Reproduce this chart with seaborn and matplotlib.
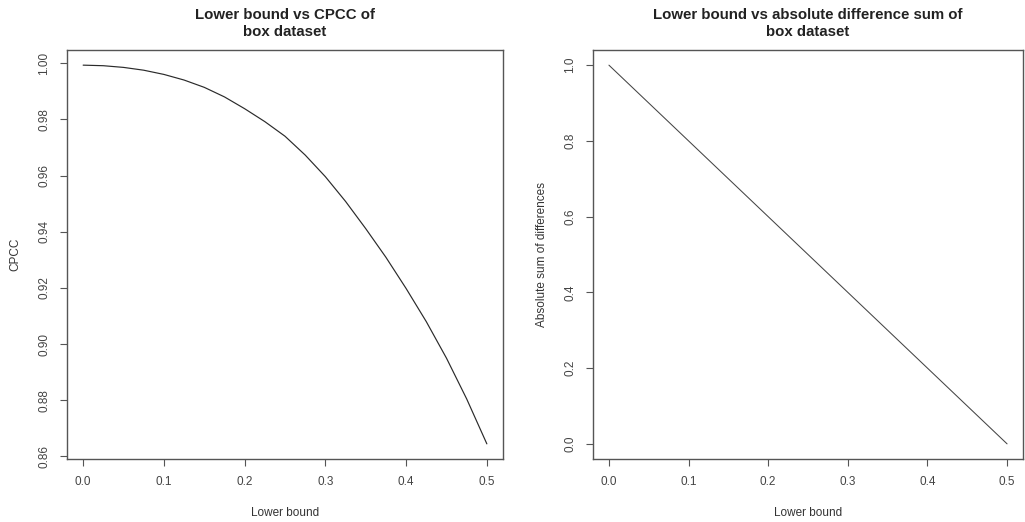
import matplotlib
matplotlib.use("Agg")
import matplotlib.pyplot as plt
import seaborn as sns
import pandas as pd

# ---- data ----
lower_bound = [0.0, 0.025, 0.05, 0.075, 0.1, 0.125, 0.15, 0.175, 0.2, 0.225, 0.25,
               0.275, 0.3, 0.325, 0.35, 0.375, 0.4, 0.425, 0.45, 0.475, 0.5]
cpcc = [0.9993, 0.9991, 0.9985, 0.9975, 0.9960, 0.9940, 0.9914, 0.9880, 0.9838, 0.9792, 0.9740,
        0.9673, 0.9596, 0.9508, 0.9411, 0.9309, 0.9198, 0.9080, 0.8950, 0.8805, 0.8645]
lower_bound2 = [0.0, 0.05, 0.1, 0.15, 0.2, 0.25, 0.3, 0.35, 0.4, 0.45, 0.5]
abs_diff = [1.0, 0.9, 0.8, 0.7, 0.6, 0.5, 0.4, 0.3, 0.2, 0.1, 0.0]

x_ticks = [0.0, 0.1, 0.2, 0.3, 0.4, 0.5]
x_tick_labels = ["0.0", "0.1", "0.2", "0.3", "0.4", "0.5"]
y1_ticks = [0.86, 0.88, 0.90, 0.92, 0.94, 0.96, 0.98, 1.00]
y1_tick_labels = ["0.86", "0.88", "0.90", "0.92", "0.94", "0.96", "0.98", "1.00"]
y2_ticks = [0.0, 0.2, 0.4, 0.6, 0.8, 1.0]
y2_tick_labels = ["0.0", "0.2", "0.4", "0.6", "0.8", "1.0"]

title1 = "Lower bound vs CPCC of\nbox dataset"
title2 = "Lower bound vs absolute difference sum of\nbox dataset"

sns.set_theme(style="white")
plt.rcParams["font.family"] = ["Liberation Sans", "DejaVu Sans"]

df1 = pd.DataFrame({"x": lower_bound, "y": cpcc})
df2 = pd.DataFrame({"x": lower_bound2, "y": abs_diff})

fig = plt.figure(figsize=(10.25, 5.22), dpi=100)
ax1 = fig.add_axes([67/1025, 1-459/522, (503-67)/1025, (459-50)/522])
ax2 = fig.add_axes([593/1025, 1-459/522, (1023-593)/1025, (459-50)/522])

line_col = "#2a2a2a"
text_col = "#444444"

sns.lineplot(data=df1, x="x", y="y", ax=ax1, color=line_col, linewidth=0.85)
sns.lineplot(data=df2, x="x", y="y", ax=ax2, color="#444444", linewidth=0.75)

def style(ax, yt, ytl, ylabel, title):
    ax.set_xticks(x_ticks)
    ax.set_xticklabels(x_tick_labels)
    ax.set_yticks(yt)
    ax.set_yticklabels(ytl, rotation=90, va="center")
    ax.tick_params(axis="both", direction="out", length=5, width=0.8, color="#555555",
                   labelsize=8.5, labelcolor=text_col, bottom=True, left=True, pad=7)
    ax.set_xlabel("Lower bound", fontsize=8.5, color="#333333", labelpad=14)
    ax.set_ylabel(ylabel, fontsize=8.5, color="#333333", labelpad=12)
    ax.set_title(title, fontsize=10.8, fontweight="bold", color="#222222", pad=10, linespacing=1.25)
    for s in ax.spines.values():
        s.set_color("#555555")
        s.set_linewidth(1.0)
        s.set_visible(True)

style(ax1, y1_ticks, y1_tick_labels, "CPCC", title1)
style(ax2, y2_ticks, y2_tick_labels, "Absolute sum of differences", title2)

r1 = max(cpcc) - min(cpcc)
ax1.set_ylim(min(cpcc) - 0.04 * r1, max(cpcc) + 0.04 * r1)
ax1.set_xlim(-0.02, 0.52)
r2 = max(abs_diff) - min(abs_diff)
ax2.set_ylim(min(abs_diff) - 0.04 * r2, max(abs_diff) + 0.04 * r2)
ax2.set_xlim(-0.02, 0.52)

fig.savefig("out.png", dpi=100, facecolor="white")
